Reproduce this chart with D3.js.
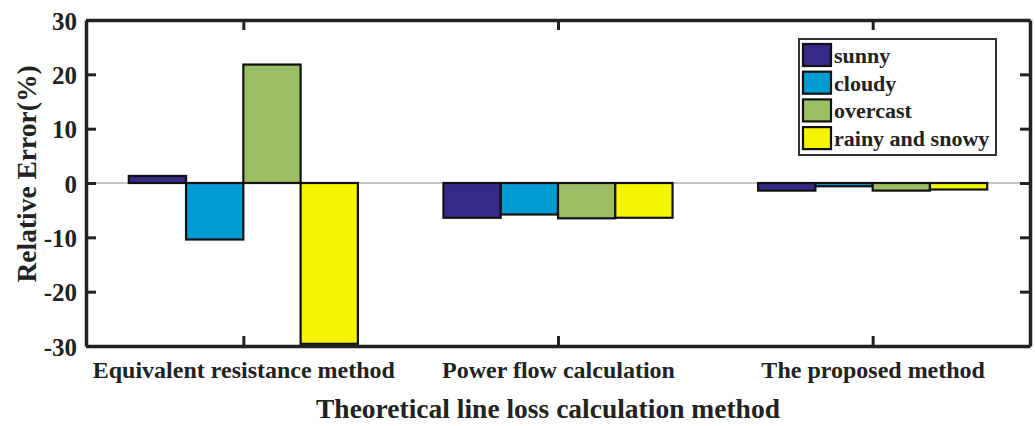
<!DOCTYPE html>
<html>
<head>
<meta charset="utf-8">
<script src="https://cdn.jsdelivr.net/npm/d3@7"></script>
<style>
  body { margin: 0; background: #fff; }
  text { font-family: "Liberation Serif", "Times New Roman", serif; font-weight: bold; fill: #222; }
</style>
</head>
<body>
<svg id="chart" width="1035" height="426"></svg>
<script>
// data
const methods = ["Equivalent resistance method", "Power flow calculation", "The proposed method"];
const weather = ["sunny", "cloudy", "overcast", "rainy and snowy"];
const sunny = [1.3, -6.4, -1.4];
const cloudy = [-10.4, -5.8, -0.6];
const overcast = [21.8, -6.5, -1.4];
const rainySnowy = [-29.6, -6.4, -1.2];
const yTicks = [-30, -20, -10, 0, 10, 20, 30];
const colors = ["#352a87", "#009ccf", "#9bbf64", "#f5f500"];

const series = [sunny, cloudy, overcast, rainySnowy];

const svg = d3.select("#chart");
const plotL = 86, plotR = 1030, plotT = 20, plotB = 346;

const x = d3.scaleLinear().domain([0.5, 3.5]).range([plotL, plotR]);
const y = d3.scaleLinear().domain([-30, 30]).range([plotB, plotT]);

const barW = 0.182;
const groupW = barW * weather.length;

// zero line
svg.append("line")
  .attr("x1", plotL).attr("x2", plotR)
  .attr("y1", y(0)).attr("y2", y(0))
  .attr("stroke", "#8c8c8c").attr("stroke-width", 1.2);

// bars
series.forEach(function(vals, s){
  svg.append("g").selectAll("rect")
    .data(vals)
    .enter().append("rect")
    .attr("x", (d, i) => x(i + 1 - groupW / 2 + s * barW))
    .attr("width", x(barW) - x(0))
    .attr("y", d => y(Math.max(0, d)))
    .attr("height", d => Math.abs(y(d) - y(0)))
    .attr("fill", colors[s])
    .attr("stroke", "#111")
    .attr("stroke-width", 2.2);
});

// axes box
const axisColor = "#222";
const yAxis = d3.axisLeft(y).tickValues(yTicks).tickSizeInner(-10).tickSizeOuter(0).tickPadding(9)
  .tickFormat(d => String(d));
const gy = svg.append("g").attr("transform", "translate(" + plotL + ",0)").call(yAxis);
gy.selectAll("text").style("font-size", "25px").attr("dy", "0.36em");

const yAxisR = d3.axisRight(y).tickValues(yTicks).tickSizeInner(-10).tickSizeOuter(0).tickFormat("");
svg.append("g").attr("transform", "translate(" + plotR + ",0)").call(yAxisR);

const xAxis = d3.axisBottom(x).tickValues([1, 2, 3]).tickSizeInner(-10).tickSizeOuter(0)
  .tickFormat((d, i) => methods[i]).tickPadding(15);
const gx = svg.append("g").attr("transform", "translate(0," + plotB + ")").call(xAxis);
gx.selectAll("text").style("font-size", "24px");

const xAxisT = d3.axisTop(x).tickValues([1, 2, 3]).tickSizeInner(-10).tickSizeOuter(0).tickFormat("");
svg.append("g").attr("transform", "translate(0," + plotT + ")").call(xAxisT);

svg.selectAll(".domain").attr("stroke", axisColor).attr("stroke-width", 3.5);
svg.selectAll(".tick line").attr("stroke", axisColor).attr("stroke-width", 3);

// axis titles
svg.append("text")
  .attr("x", 548).attr("y", 418)
  .attr("text-anchor", "middle")
  .style("font-size", "27.5px")
  .text("Theoretical line loss calculation method");

svg.append("text")
  .attr("transform", "translate(36,174) rotate(-90)")
  .attr("text-anchor", "middle")
  .style("font-size", "27.5px")
  .text("Relative Error(%)");

// legend
const lg = svg.append("g").attr("transform", "translate(799,39)");
lg.append("rect").attr("width", 197).attr("height", 116)
  .attr("fill", "#fff").attr("stroke", "#333").attr("stroke-width", 2);
weather.forEach(function(name, i){
  const row = lg.append("g").attr("transform", "translate(4," + (5 + i * 27.7) + ")");
  row.append("rect").attr("width", 28).attr("height", 22)
    .attr("fill", colors[i]).attr("stroke", "#111").attr("stroke-width", 2.2);
  row.append("text").attr("x", 31).attr("y", 19).style("font-size", "22px").text(name);
});
</script>
</body>
</html>
